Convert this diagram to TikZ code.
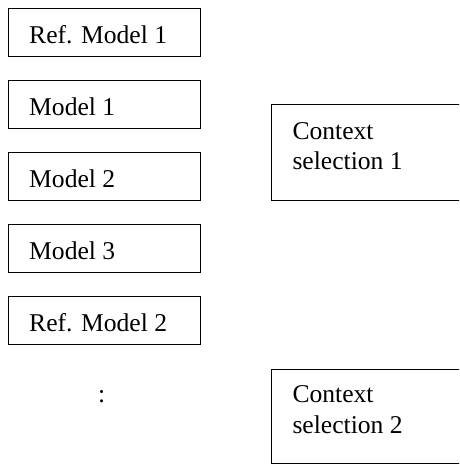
\documentclass[tikz,border=0pt]{standalone}
\usepackage{fontspec}
\setmainfont{Liberation Serif}
\begin{document}
\begin{tikzpicture}[x=1pt,y=-1pt,
  box/.style={draw=black, line width=0.9pt, inner sep=0pt, outer sep=0pt},
  txt/.style={anchor=base west, inner sep=0pt, font=\fontsize{25.6}{30}\selectfont}
]
\useasboundingbox (0,0) rectangle (459,464);
\clip (0,0) rectangle (459,464);
% model stack on the left
\node[box, minimum width=192pt, minimum height=48.5pt, anchor=north west] (r1) at (8,8) {};
\node[box, minimum width=192pt, minimum height=48.5pt, anchor=north west] (m1) at (8,80) {};
\node[box, minimum width=192pt, minimum height=48.5pt, anchor=north west] (m2) at (8,152) {};
\node[box, minimum width=192pt, minimum height=48.5pt, anchor=north west] (m3) at (8,224) {};
\node[box, minimum width=192pt, minimum height=48.5pt, anchor=north west] (r2) at (8,296) {};
\node[txt] (tr1) at (29,43.3) {Ref. Model 1};
\node[txt] (tm1) at (29,115) {Model 1};
\node[txt] (tm2) at (29,187) {Model 2};
\node[txt] (tm3) at (29,259) {Model 3};
\node[txt] (tr2) at (29,331.5) {Ref. Model 2};
\node[txt, anchor=base] (dots) at (101.7,402) {:};
% context selection boxes, running past the right edge
\node[box, minimum width=200pt, minimum height=96pt, anchor=north west] (c1) at (271,104) {};
\node[box, minimum width=200pt, minimum height=94pt, anchor=north west] (c2) at (271,369) {};
\node[txt] (tc1a) at (292.3,139.3) {Context};
\node[txt] (tc1b) at (292.3,169.3) {selection 1};
\node[txt] (tc2a) at (292.3,402.7) {Context};
\node[txt] (tc2b) at (292.3,433.3) {selection 2};
\end{tikzpicture}
\end{document}
